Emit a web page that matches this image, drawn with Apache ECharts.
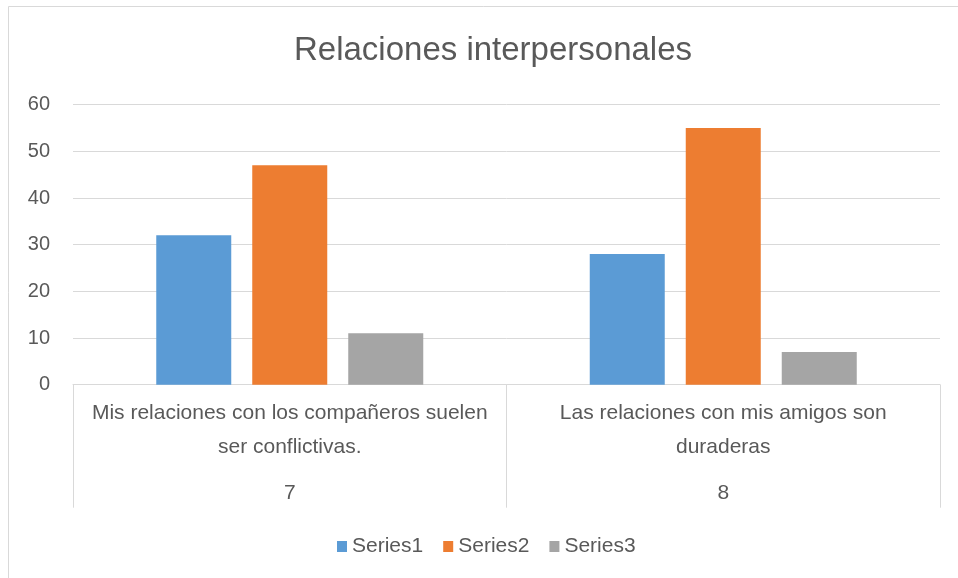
<!DOCTYPE html>
<html lang="es">
  <head>
    <meta charset="UTF-8" />
    <title>Relaciones interpersonales</title>
    <style>
      body {
        margin: 0;
        overflow: hidden;
        background: #fff;
      }
    </style>
    <script src="https://cdn.jsdelivr.net/npm/echarts@6/dist/echarts.min.js"></script>
  </head>

  <body>
    <div id="chart" style="width: 958px; height: 578px"></div>
    <script>
      // datos
      var categories = [
        "Mis relaciones con los compañeros suelen\nser conflictivas.",
        "Las relaciones con mis amigos son\nduraderas",
      ];
      var groups = ["7", "8"];
      var seriesNames = ["Series1", "Series2", "Series3"];
      var series1 = [32, 28];
      var series2 = [47, 55];
      var series3 = [11, 7];
      var colors = ["#5B9BD5", "#ED7D31", "#A5A5A5"];

      var font = "'Liberation Sans', Arial, sans-serif";
      var textColor = "#595959";
      var lineColor = "#D9D9D9";

      var values = [series1, series2, series3];
      var series = seriesNames.map(function (name, i) {
        return {
          name: name,
          type: "bar",
          data: values[i],
          barWidth: 75,
          barGap: "28%",
          itemStyle: { color: colors[i] },
        };
      });

      var option = {
        animation: false,
        backgroundColor: "#fff",
        textStyle: { fontFamily: font },
        title: {
          text: "Relaciones interpersonales",
          left: 488,
          textAlign: "center",
          top: 29,
          textStyle: {
            fontFamily: font,
            fontSize: 33,
            fontWeight: "normal",
            color: textColor,
          },
        },
        legend: {
          left: 337,
          top: 536,
          padding: 0,
          itemWidth: 10,
          itemHeight: 11,
          itemGap: 20,
          icon: "rect",
          textStyle: { fontFamily: font, fontSize: 21, color: textColor },
          data: seriesNames,
        },
        grid: { left: 73, right: 18, top: 104.7, bottom: 193.3 },
        xAxis: [
          {
            type: "category",
            data: categories,
            axisLine: { show: true, lineStyle: { color: lineColor, width: 1 } },
            axisTick: {
              show: true,
              alignWithLabel: false,
              interval: 0,
              length: 123,
              lineStyle: { color: lineColor, width: 1 },
            },
            axisLabel: {
              interval: 0,
              margin: 12,
              fontSize: 21,
              lineHeight: 34,
              color: textColor,
              fontFamily: font,
            },
          },
          {
            type: "category",
            data: groups,
            position: "bottom",
            axisLine: { show: false },
            axisTick: { show: false },
            axisLabel: {
              interval: 0,
              margin: 98,
              fontSize: 21,
              lineHeight: 22,
              color: textColor,
              fontFamily: font,
            },
          },
        ],
        yAxis: {
          type: "value",
          min: 0,
          max: 60,
          interval: 10,
          axisLine: { show: false },
          axisTick: { show: false },
          splitLine: { lineStyle: { color: lineColor, width: 1 } },
          axisLabel: {
            margin: 23,
            fontSize: 20,
            color: textColor,
            fontFamily: font,
          },
        },
        graphic: [
          {
            type: "rect",
            shape: { x: 8.5, y: 6.5, width: 1000, height: 1000 },
            style: { fill: null, stroke: lineColor, lineWidth: 1 },
            silent: true,
          },
        ],
        series: series,
      };

      var myChart = echarts.init(document.getElementById("chart"));
      myChart.setOption(option);
    </script>
  </body>
</html>
